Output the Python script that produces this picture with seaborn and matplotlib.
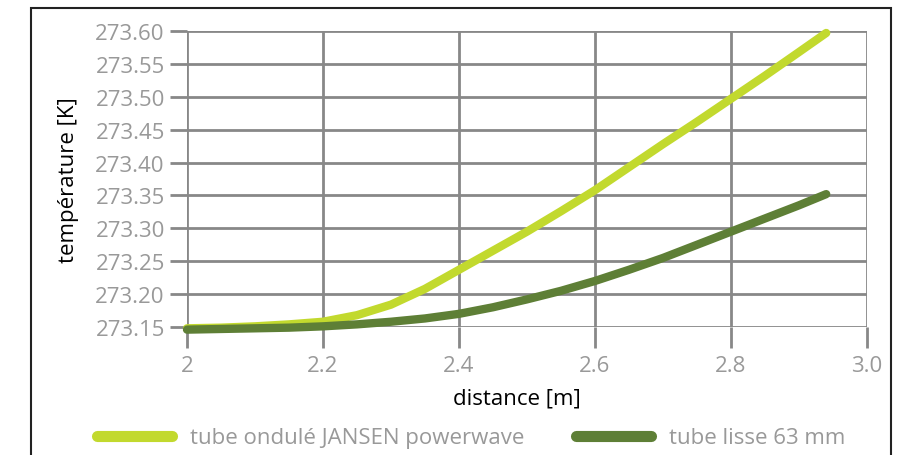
import seaborn as sns
import matplotlib.pyplot as plt
import matplotlib.patches as mpatches
import pandas as pd

# distance [m]
distance = [2.00, 2.05, 2.10, 2.15, 2.20, 2.25, 2.30, 2.35, 2.40, 2.45,
            2.50, 2.55, 2.60, 2.65, 2.70, 2.75, 2.80, 2.85, 2.90, 2.94]
# temperature [K]
temp_jansen = [273.148, 273.149, 273.151, 273.154, 273.158, 273.168, 273.184, 273.208, 273.237, 273.266,
               273.295, 273.326, 273.358, 273.393, 273.428, 273.462, 273.497, 273.532, 273.568, 273.597]
temp_lisse = [273.146, 273.147, 273.148, 273.149, 273.151, 273.154, 273.158, 273.163, 273.170, 273.180,
              273.192, 273.205, 273.220, 273.237, 273.255, 273.275, 273.295, 273.315, 273.335, 273.352]
series_names = ["tube ondulé JANSEN powerwave", "tube lisse 63 mm"]
colors = ["#c2d92e", "#5e7f36"]
xticks = [2.0, 2.2, 2.4, 2.6, 2.8, 3.0]
xticklabels = ["2", "2.2", "2.4", "2.6", "2.8", "3.0"]
yticks = [273.15, 273.20, 273.25, 273.30, 273.35, 273.40, 273.45, 273.50, 273.55, 273.60]

df = pd.DataFrame({
    "distance": distance * 2,
    "temp": temp_jansen + temp_lisse,
    "serie": [series_names[0]] * len(distance) + [series_names[1]] * len(distance),
})

sns.set_style("white")
plt.rcParams["font.family"] = ["Open Sans", "DejaVu Sans"]

fig = plt.figure(figsize=(9.08, 4.56), dpi=100)
ax = fig.add_axes([187 / 908, 1 - 328 / 456, 680 / 908, 296 / 456])

sns.lineplot(data=df, x="distance", y="temp", hue="serie", palette=colors,
             linewidth=6, ax=ax, legend=False, solid_capstyle="round")
for ln in ax.lines:
    ln.set_clip_on(False)

ax.set_xlim(2.0, 3.0)
ax.set_ylim(273.15, 273.60)
ax.set_xticks(xticks)
ax.set_xticklabels(xticklabels)
ax.set_yticks(yticks)
ax.set_yticklabels([f"{v:.2f}" for v in yticks])
ax.grid(True, color="#888888", linewidth=2)
ax.set_axisbelow(True)
for s in ax.spines.values():
    s.set_visible(False)
ax.tick_params(axis="x", bottom=True, length=15, width=2, color="#888888", labelcolor="#999999",
               labelsize=16, pad=5)
ax.tick_params(axis="y", left=True, length=12, width=2, color="#888888", labelcolor="#999999",
               labelsize=16, pad=4)
ax.set_xlabel("distance [m]", fontsize=16, color="black")
ax.xaxis.set_label_coords((517 - 187) / 680, -60 / 296)
ax.set_ylabel("température [K]", fontsize=16, color="black", labelpad=12)

handles = [plt.Line2D([], [], color=c, linewidth=8, solid_capstyle="round") for c in colors]
fig.legend(handles, series_names, loc="center", bbox_to_anchor=(471 / 908, 1 - 439 / 456),
           ncol=2, frameon=False, fontsize=16, labelcolor="#999999",
           handlelength=3.4, handletextpad=0.8, columnspacing=2.3)

# outer frame of the chart area
fig.add_artist(mpatches.Rectangle((31 / 908, -0.05), 860 / 908, 1 - 9 / 456 + 0.05,
                                  transform=fig.transFigure, fill=False,
                                  edgecolor="#222222", linewidth=1.5))

fig.savefig("out.png", dpi=100)
